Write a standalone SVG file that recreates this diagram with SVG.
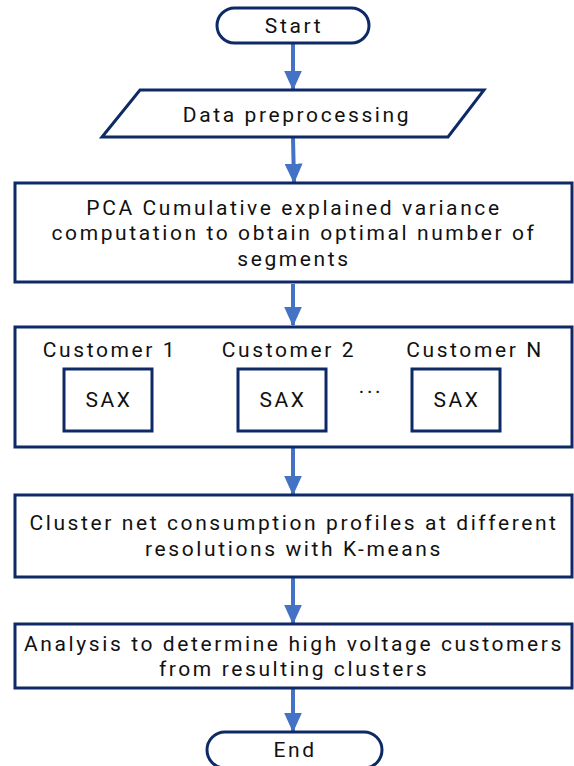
<svg xmlns="http://www.w3.org/2000/svg" width="574" height="766" viewBox="0 0 574 766">
<style>
.shape{fill:#ffffff;stroke:#0e2a66;stroke-width:3}
.t{font-family:Roboto,"Liberation Sans",sans-serif;font-size:21px;fill:#111111;text-anchor:middle;letter-spacing:2.6px}
.c{stroke:#4472c4;stroke-width:4;fill:none}
</style>
<defs>
<marker id="ah" markerWidth="5" markerHeight="4.5" refX="4.6" refY="2.25" orient="auto" markerUnits="strokeWidth">
<path d="M0,0 L5,2.25 L0,4.5 Z" fill="#4472c4"/>
</marker>
</defs>
<rect width="574" height="766" fill="#ffffff"/>
<g id="connectors">
<line class="c" x1="293" y1="44" x2="293" y2="89" marker-end="url(#ah)"/>
<line class="c" x1="293" y1="138" x2="294" y2="182" marker-end="url(#ah)"/>
<line class="c" x1="293" y1="284" x2="293" y2="325" marker-end="url(#ah)"/>
<line class="c" x1="293" y1="448" x2="293" y2="494" marker-end="url(#ah)"/>
<line class="c" x1="293" y1="578" x2="293" y2="623" marker-end="url(#ah)"/>
<line class="c" x1="293" y1="689" x2="293" y2="731" marker-end="url(#ah)"/>
</g>
<g id="start">
<rect class="shape" x="217" y="8" width="152" height="35" rx="17.5"/>
<text class="t" x="294" y="33">Start</text>
</g>
<g id="preprocess">
<polygon class="shape" points="140,90 484,90 448,137 102,137"/>
<text class="t" x="297" y="122">Data preprocessing</text>
</g>
<g id="pca">
<rect class="shape" x="15" y="183" width="557" height="99"/>
<text class="t" x="294" y="215">PCA Cumulative explained variance</text>
<text class="t" x="294" y="240">computation to obtain optimal number of</text>
<text class="t" x="294" y="266">segments</text>
</g>
<g id="customers">
<rect class="shape" x="15" y="327" width="557" height="120"/>
<text class="t" x="110" y="357">Customer 1</text>
<text class="t" x="289" y="357">Customer 2</text>
<text class="t" x="475" y="357">Customer N</text>
<g id="sax1"><rect class="shape" x="64" y="369" width="88" height="62"/><text class="t" x="109" y="407">SAX</text></g>
<g id="sax2"><rect class="shape" x="238" y="369" width="88" height="62"/><text class="t" x="283" y="407">SAX</text></g>
<g id="saxn"><rect class="shape" x="412" y="369" width="88" height="62"/><text class="t" x="457" y="407">SAX</text></g>
<text class="t" x="371" y="393">...</text>
</g>
<g id="cluster">
<rect class="shape" x="15" y="495" width="557" height="82"/>
<text class="t" x="294" y="530">Cluster net consumption profiles at different</text>
<text class="t" x="294" y="556">resolutions with K-means</text>
</g>
<g id="analysis">
<rect class="shape" x="15" y="624" width="557" height="64"/>
<text class="t" x="294" y="651">Analysis to determine high voltage customers</text>
<text class="t" x="294" y="676">from resulting clusters</text>
</g>
<g id="end">
<rect class="shape" x="207" y="732" width="175" height="36" rx="18"/>
<text class="t" x="295" y="757">End</text>
</g>
</svg>
